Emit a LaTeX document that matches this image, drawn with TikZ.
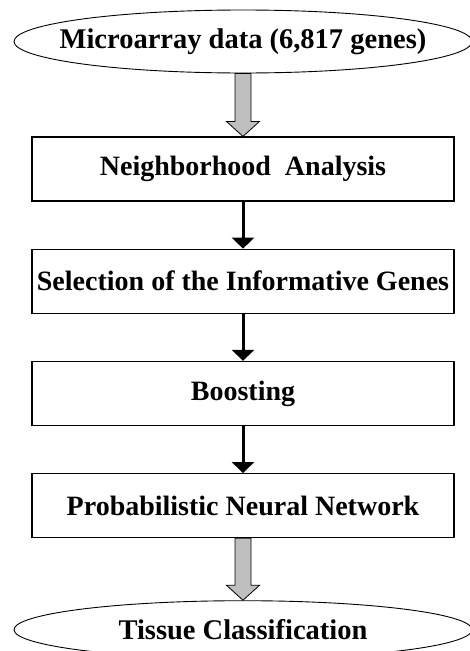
\documentclass[tikz,border=0pt]{standalone}
\usepackage{fontspec}
\setmainfont{Liberation Serif}
\usepackage{tikz}
\usetikzlibrary{shapes,arrows,arrows.meta}
\usetikzlibrary{positioning}
\tikzstyle{arrow} = [line width=3pt,-{Triangle[width=22pt,length=11pt]}]
\tikzstyle{bigarrow} = [fill=black!25, draw=black, line width=0.8pt]
\tikzstyle{stage} = [
    rectangle, minimum width=422pt, minimum height=64pt, text centered,
    inner sep=1pt, draw=black, line width=1.2pt, font=\fontsize{28}{32}\selectfont\bfseries]
\tikzstyle{terminal} = [
    ellipse, minimum width=458pt, minimum height=63pt, text centered,
    inner xsep=-60pt, inner ysep=0pt, draw=black, line width=0.9pt,
    font=\fontsize{28.5}{32}\selectfont\bfseries]

\begin{document}
\begin{tikzpicture}[x=1pt,y=1pt,node distance=47pt]
\useasboundingbox (0,0) rectangle (470,-651);

\node (data) [terminal] at (243,-41.5) {Microarray data (6,817 genes)};
\node (nbr) [stage, below=63pt of data] {Neighborhood\ \ Analysis};
\node (select) [stage, below=of nbr] {Selection of the Informative Genes};
\node (boost) [stage, below=of select] {Boosting};
\node (pnn) [stage, below=of boost] {Probabilistic Neural Network};
\node (tissue) [terminal, minimum height=58pt, below=62pt of pnn] {Tissue Classification};

% gray block arrows
\draw[bigarrow] ([xshift=-8pt]data.south) |- ([xshift=-16.5pt,yshift=15pt]nbr.north)
    -- (nbr.north) -- ([xshift=16.5pt,yshift=15pt]nbr.north) -| ([xshift=8pt]data.south) -- cycle;
\draw[bigarrow] ([xshift=-8pt]pnn.south) |- ([xshift=-16.5pt,yshift=15pt]tissue.north)
    -- (tissue.north) -- ([xshift=16.5pt,yshift=15pt]tissue.north) -| ([xshift=8pt]pnn.south) -- cycle;

\draw[arrow] (nbr) -- (select);
\draw[arrow] (select) -- (boost);
\draw[arrow] (boost) -- (pnn);
\end{tikzpicture}
\end{document}
